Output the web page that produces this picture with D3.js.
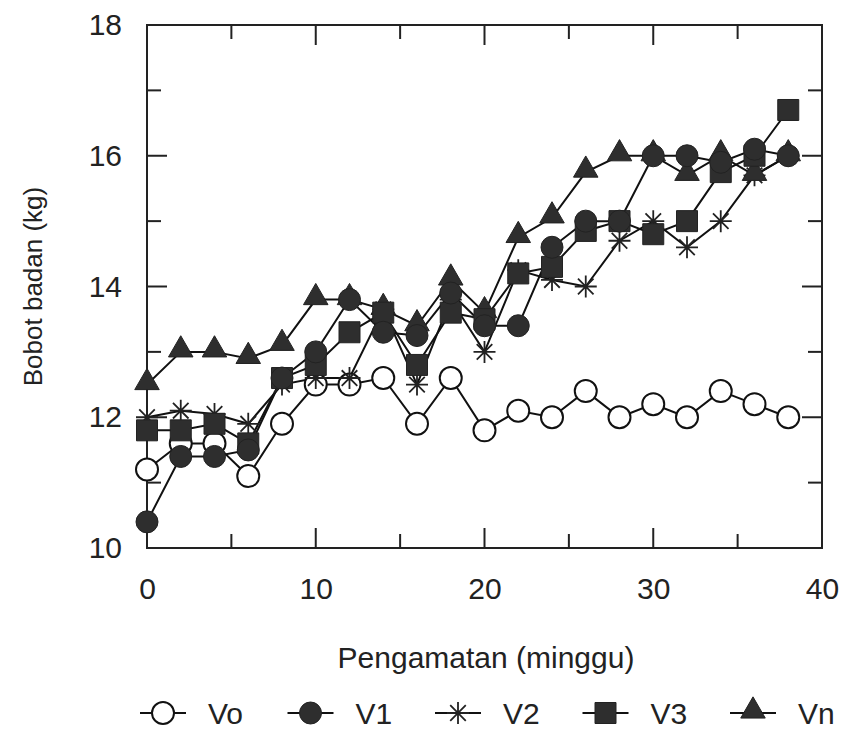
<!DOCTYPE html>
<html>
<head>
<meta charset="utf-8">
<script src="https://cdn.jsdelivr.net/npm/d3@7"></script>
<style>
  body { margin: 0; background: #fff; }
  svg { display: block; font-family: "Liberation Sans", Arial, sans-serif; }
  .tick-label { font-size: 30px; fill: #222; }
  .title { fill: #222; }
</style>
</head>
<body>
<svg id="chart"></svg>
<script>
const weeks = [0, 2, 4, 6, 8, 10, 12, 14, 16, 18, 20, 22, 24, 26, 28, 30, 32, 34, 36, 38];
const vo = [11.2, 11.6, 11.6, 11.1, 11.9, 12.5, 12.5, 12.6, 11.9, 12.6, 11.8, 12.1, 12.0, 12.4, 12.0, 12.2, 12.0, 12.4, 12.2, 12.0];
const v1 = [10.4, 11.4, 11.4, 11.5, 12.6, 13.0, 13.8, 13.3, 13.25, 13.9, 13.4, 13.4, 14.6, 15.0, 15.0, 16.0, 16.0, 15.9, 16.1, 16.0];
const v2 = [12.0, 12.1, 12.05, 11.9, 12.5, 12.6, 12.6, 13.65, 12.5, 13.8, 13.0, 14.25, 14.1, 14.0, 14.7, 15.0, 14.6, 15.0, 15.7, 16.0];
const v3 = [11.8, 11.8, 11.9, 11.6, 12.6, 12.8, 13.3, 13.6, 12.8, 13.6, 13.5, 14.2, 14.3, 14.85, 15.0, 14.8, 15.0, 15.75, 16.0, 16.7];
const vn = [12.5, 13.0, 13.0, 12.9, 13.1, 13.8, 13.8, 13.65, 13.4, 14.1, 13.6, 14.75, 15.05, 15.75, 16.0, 16.0, 15.7, 16.0, 15.7, 16.0];

const seriesNames = ['Vo', 'V1', 'V2', 'V3', 'Vn'];
const seriesValues = [vo, v1, v2, v3, vn];
const xTicks = [0, 10, 20, 30, 40];
const yTicks = [10, 12, 14, 16, 18];

const width = 842;
const height = 731;
const margin = { top: 25, right: 20, bottom: 183, left: 147 };
const dark = '#2e2e2e';

const svg = d3.select('#chart').attr('width', width).attr('height', height);

const x = d3.scaleLinear().domain([0, 40]).range([margin.left, width - margin.right]);
const y = d3.scaleLinear().domain([10, 18]).range([height - margin.bottom, margin.top]);

// frame
svg.append('rect')
  .attr('x', x(0)).attr('y', y(18))
  .attr('width', x(40) - x(0)).attr('height', y(10) - y(18))
  .attr('fill', 'none').attr('stroke', '#222').attr('stroke-width', 2);

// inside ticks on all four sides
const tickLen = v => (v % 10 === 0 ? 20 : 14);
const g = svg.append('g').attr('stroke', '#222').attr('stroke-width', 2);
d3.range(5, 40, 5).forEach(v => {
  const len = v % 10 === 0 ? 20 : 14;
  g.append('line').attr('x1', x(v)).attr('x2', x(v)).attr('y1', y(10)).attr('y2', y(10) - len);
  g.append('line').attr('x1', x(v)).attr('x2', x(v)).attr('y1', y(18)).attr('y2', y(18) + len);
});
d3.range(11, 18, 1).forEach(v => {
  const len = v % 2 === 0 ? 20 : 14;
  g.append('line').attr('y1', y(v)).attr('y2', y(v)).attr('x1', x(0)).attr('x2', x(0) + len);
  g.append('line').attr('y1', y(v)).attr('y2', y(v)).attr('x1', x(40)).attr('x2', x(40) - len);
});

// tick labels
const xAxis = d3.axisBottom(x).tickValues(xTicks).tickSize(0).tickPadding(0);
const xg = svg.append('g').attr('transform', `translate(0, ${y(10) + 30})`).call(xAxis);
xg.select('.domain').remove();
xg.selectAll('text').attr('class', 'tick-label').attr('fill', '#222').attr('dy', '0.71em').attr('y', 0);

const yAxis = d3.axisLeft(y).tickValues(yTicks).tickSize(0).tickPadding(0);
const yg = svg.append('g').attr('transform', `translate(${x(0) - 25}, 0)`).call(yAxis);
yg.select('.domain').remove();
yg.selectAll('text').attr('class', 'tick-label').attr('fill', '#222');

// axis titles
svg.append('text')
  .attr('class', 'title')
  .attr('x', 486).attr('y', 668)
  .attr('text-anchor', 'middle')
  .style('font-size', '30px')
  .text('Pengamatan (minggu)');

svg.append('text')
  .attr('class', 'title')
  .attr('transform', `translate(42, ${y(14)}) rotate(-90)`)
  .attr('text-anchor', 'middle')
  .style('font-size', '26px')
  .text('Bobot badan (kg)');

// markers
const asterisk = r => {
  let p = '';
  for (let i = 0; i < 4; i++) {
    const a = i * Math.PI / 4;
    const dx = r * Math.cos(a), dy = r * Math.sin(a);
    p += `M${-dx},${-dy}L${dx},${dy}`;
  }
  return p;
};
const triPath = d3.symbol(d3.symbolTriangle, 260)();
const sqPath = d3.symbol(d3.symbolSquare, 441)();

function drawMarker(sel, name) {
  if (name === 'Vo') {
    sel.append('circle').attr('r', 11).attr('fill', '#fff').attr('stroke', '#111').attr('stroke-width', 2);
  } else if (name === 'V1') {
    sel.append('circle').attr('r', 11).attr('fill', dark).attr('stroke', '#222').attr('stroke-width', 1);
  } else if (name === 'V2') {
    sel.append('path').attr('d', asterisk(11)).attr('fill', 'none').attr('stroke', '#222').attr('stroke-width', 1.8);
  } else if (name === 'V3') {
    sel.append('path').attr('d', sqPath).attr('fill', dark).attr('stroke', '#222').attr('stroke-width', 1);
  } else {
    sel.append('path').attr('d', triPath).attr('transform', 'translate(0,-2)')
      .attr('fill', dark).attr('stroke', '#222').attr('stroke-width', 1);
  }
}

const line = d3.line().x(d => x(d[0])).y(d => y(d[1]));
const series = seriesNames.map((name, i) => ({
  name,
  points: weeks.map((w, j) => [w, seriesValues[i][j]]),
}));

// lines first
svg.append('g').selectAll('path')
  .data(series)
  .enter().append('path')
    .attr('d', d => line(d.points))
    .attr('fill', 'none')
    .attr('stroke', '#111')
    .attr('stroke-width', 2);

// then markers (drawing order roughly as in the original)
const order = ['Vo', 'V2', 'Vn', 'V3', 'V1'];
order.forEach(name => {
  const s = series.find(d => d.name === name);
  svg.append('g').selectAll('g')
    .data(s.points)
    .enter().append('g')
      .attr('transform', d => `translate(${x(d[0])}, ${y(d[1])})`)
      .each(function () { drawMarker(d3.select(this), name); });
});

// legend
const legendY = 713;
const legendX = d3.scalePoint().domain(seriesNames).range([163, 753]);
seriesNames.forEach(name => {
  const cx = legendX(name);
  const lg = svg.append('g').attr('transform', `translate(${cx}, ${legendY})`);
  lg.append('line').attr('x1', -23).attr('x2', 23).attr('stroke', '#111').attr('stroke-width', 2);
  drawMarker(lg, name);
  svg.append('text')
    .attr('class', 'title')
    .attr('x', cx + 45).attr('y', legendY + 11)
    .style('font-size', '30px')
    .text(name);
});
</script>
</body>
</html>
